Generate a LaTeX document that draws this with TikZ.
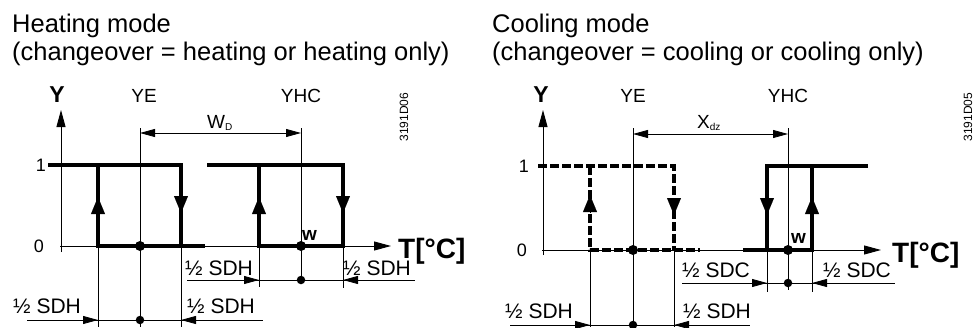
\documentclass[tikz,border=0pt]{standalone}
\usepackage{fontspec}
\setmainfont{Liberation Sans}
\usetikzlibrary{arrows.meta}

\tikzset{
    plotaxis/.style={line width=0.9pt, -{Triangle[length=17pt,width=9pt]}},
    thinline/.style={line width=0.8pt},
    hyst/.style={line width=4pt, line join=miter},
    hystdashed/.style={hyst, dash pattern=on 9pt off 3pt},
    flow/.style={line width=0.1pt, -{Triangle[length=17pt,width=14pt]}},
    dimtip/.style={line width=0.8pt, -{Triangle[length=15pt,width=8pt]}},
    dimboth/.style={line width=0.8pt, {Triangle[length=15pt,width=8pt]}-{Triangle[length=15pt,width=8pt]}},
    bigdot/.style={circle, fill, inner sep=0pt, minimum size=10pt},
    smalldot/.style={circle, fill, inner sep=0pt, minimum size=8.5pt},
    titlelbl/.style={font=\fontsize{25.5}{28}\selectfont, anchor=base west, inner sep=0pt},
    ticklbl/.style={font=\fontsize{18}{20}\selectfont, inner sep=0pt},
    outlbl/.style={font=\fontsize{19}{22}\selectfont, anchor=base, inner sep=0pt},
    sdlbl/.style={font=\fontsize{21}{24}\selectfont, anchor=base west, inner sep=0pt},
    axlbl/.style={font=\bfseries\fontsize{23}{26}\selectfont, anchor=base, inner sep=0pt},
    wlbl/.style={font=\bfseries\fontsize{19}{22}\selectfont, anchor=base west, inner sep=0pt},
    templbl/.style={font=\bfseries\fontsize{28}{30}\selectfont, anchor=base west, inner sep=0pt},
    codelbl/.style={font=\fontsize{12}{14}\selectfont, rotate=90, inner sep=0pt},
}

\begin{document}
\begin{tikzpicture}[x=1pt, y=-1pt]
    \useasboundingbox (0,0) rectangle (978,327);

    % Titles
    \node[titlelbl] (hTitle) at (12,32) {Heating mode};
    \node[titlelbl] (hSub) at (12,60) {(changeover = heating or heating only)};
    \node[titlelbl] (cTitle) at (492,32) {Cooling mode};
    \node[titlelbl] (cSub) at (492,60) {(changeover = cooling or cooling only)};

    % ---------------- Heating mode ----------------
    % Draw the axes
    \draw[plotaxis] (61,252) -- (61,110);
    \draw[plotaxis] (60,246) -- (391,246);
    \node[axlbl] (hY) at (57,102) {Y};
    \node[templbl] (hT) at (398,258) {T[°C]};
    \node[ticklbl] (hOne) at (41,165) {1};
    \node[ticklbl] (hZero) at (39,246) {0};

    % Reference and extension lines
    \draw[thinline] (140,128) -- (140,327);
    \draw[thinline] (301,128) -- (301,282);
    \draw[thinline] (98,246) -- (98,327);
    \draw[thinline] (181,246) -- (181,327);
    \draw[thinline] (259,246) -- (259,287);
    \draw[thinline] (343,246) -- (343,288);
    \node[outlbl] (hYE) at (144,102) {YE};
    \node[outlbl] (hYHC) at (301,102) {YHC};

    % Hysteresis loops YE and YHC
    \draw[hyst] (48,165) -| (181,246);
    \draw[hyst] (98,165) |- (205,246);
    \draw[hyst] (207,165) -| (343,246) -- (259,246) -- (259,165);
    \draw[flow] (98,214) -- (98,197);
    \draw[flow] (181,196) -- (181,213);
    \draw[flow] (259,214) -- (259,197);
    \draw[flow] (343,196) -- (343,213);

    % Setpoints
    \node[bigdot] (hYEdot) at (140,246) {};
    \node[bigdot] (hW) at (301,246) {};
    \node[wlbl] at (302,240) {w};

    % Dead zone
    \draw[dimboth] (140,133) -- (301,133);
    \node[anchor=base west, inner sep=0pt, font=\fontsize{19}{22}\selectfont] (hWD) at (207,128)
        {W\raisebox{-2pt}{\fontsize{10}{10}\selectfont D}};

    % Switching differentials
    \draw[thinline] (187,280) -- (415,280);
    \draw[dimtip] (240,280) -- (259,280);
    \draw[dimtip] (362,280) -- (343,280);
    \node[smalldot] (hWbot) at (301,280) {};
    \node[sdlbl] (hSD1) at (185,275) {½ SDH};
    \node[sdlbl] (hSD2) at (343,275) {½ SDH};

    \draw[thinline] (27,320) -- (263,320);
    \draw[dimtip] (79,320) -- (98,320);
    \draw[dimtip] (200,320) -- (181,320);
    \node[smalldot] (hYEbot) at (140,320) {};
    \node[sdlbl] (hSD3) at (13,313) {½ SDH};
    \node[sdlbl] (hSD4) at (187,313) {½ SDH};

    \node[codelbl] (hCode) at (404,117) {3191D06};

    % ---------------- Cooling mode ----------------
    % Draw the axes
    \draw[plotaxis] (543,255) -- (543,110);
    \draw[plotaxis] (542,250) -- (881,250);
    \node[axlbl] (cY) at (541,102) {Y};
    \node[templbl] (cT) at (892,262) {T[°C]};
    \node[ticklbl] (cOne) at (524,166) {1};
    \node[ticklbl] (cZero) at (522,250) {0};

    % Reference and extension lines
    \draw[thinline] (633,128) -- (633,327);
    \draw[thinline] (788,128) -- (788,290);
    \draw[thinline] (590,250) -- (590,327);
    \draw[thinline] (674,250) -- (674,327);
    \draw[thinline] (767,250) -- (767,292);
    \draw[thinline] (812,250) -- (812,292);
    \node[outlbl] (cYE) at (633,102) {YE};
    \node[outlbl] (cYHC) at (788,102) {YHC};

    % Hysteresis loops YE (dashed) and YHC
    \draw[hystdashed] (538,166) -| (674,250);
    \draw[hystdashed] (590,166) |- (700,250);
    \draw[hyst] (868,166) -| (767,250);
    \draw[hyst] (743,250) -| (812,166);
    \draw[flow] (590,212) -- (590,195);
    \draw[flow] (674,198) -- (674,215);
    \draw[flow] (767,198) -- (767,215);
    \draw[flow] (812,214) -- (812,197);

    % Setpoints
    \node[bigdot] (cYEdot) at (633,250) {};
    \node[bigdot] (cW) at (788,250) {};
    \node[wlbl] at (791,243) {w};

    % Dead zone
    \draw[dimboth] (633,134) -- (788,134);
    \node[anchor=base west, inner sep=0pt, font=\fontsize{19}{22}\selectfont] (cXdz) at (697,128)
        {X\raisebox{-2pt}{\fontsize{10}{10}\selectfont dz}};

    % Switching differentials
    \draw[thinline] (682,283) -- (895,283);
    \draw[dimtip] (748,283) -- (767,283);
    \draw[dimtip] (831,283) -- (812,283);
    \node[smalldot] (cWbot) at (788,283) {};
    \node[sdlbl] (cSD1) at (682,277) {½ SDC};
    \node[sdlbl] (cSD2) at (823,277) {½ SDC};

    \draw[thinline] (510,325) -- (750,325);
    \draw[dimtip] (571,325) -- (590,325);
    \draw[dimtip] (693,325) -- (674,325);
    \node[smalldot] (cYEbot) at (633,325) {};
    \node[sdlbl] (cSD3) at (505,318) {½ SDH};
    \node[sdlbl] (cSD4) at (683,318) {½ SDH};

    \node[codelbl] (cCode) at (968,117) {3191D05};
\end{tikzpicture}
\end{document}
